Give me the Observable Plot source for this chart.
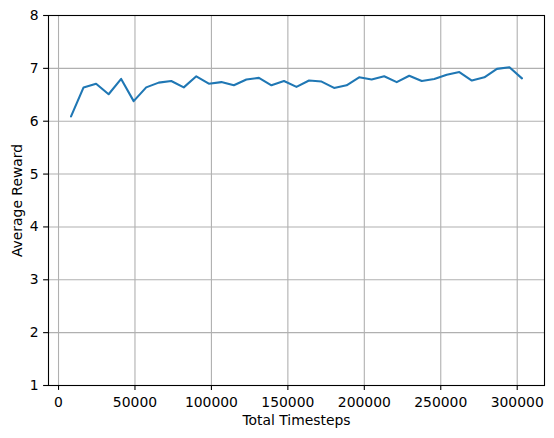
<!DOCTYPE html>
<html>
<head>
<meta charset="utf-8">
<script src="https://cdn.jsdelivr.net/npm/d3@7"></script>
<script src="https://cdn.jsdelivr.net/npm/@observablehq/plot@0.6"></script>
<style>
  html, body { margin: 0; padding: 0; background: #fff; }
  svg { display: block; font-family: "DejaVu Sans", sans-serif; }
</style>
</head>
<body>
<div id="chart"></div>
<script>
const stepSize = 8192;
const rewards = [6.09, 6.64, 6.71, 6.51, 6.80, 6.38, 6.64, 6.73, 6.76, 6.64,
                 6.85, 6.71, 6.74, 6.68, 6.79, 6.82, 6.68, 6.76, 6.65, 6.77,
                 6.75, 6.63, 6.68, 6.83, 6.79, 6.85, 6.74, 6.86, 6.76, 6.80,
                 6.88, 6.93, 6.77, 6.83, 6.99, 7.02, 6.81];
const timesteps = rewards.map((_, i) => (i + 1) * stepSize);
const xTicks = [0, 50000, 100000, 150000, 200000, 250000, 300000];
const yTicks = [1, 2, 3, 4, 5, 6, 7, 8];
const xLabel = "Total Timesteps";
const yLabel = "Average Reward";

const data = rewards.map((r, i) => ({t: timesteps[i], r}));
const span = timesteps[timesteps.length - 1] - timesteps[0];
const xDomain = [timesteps[0] - 0.05 * span, timesteps[timesteps.length - 1] + 0.05 * span];

const fs = 13.9;
const chart = Plot.plot({
  width: 554,
  height: 438,
  marginLeft: 48,
  marginRight: 10,
  marginTop: 15,
  marginBottom: 53,
  style: {fontFamily: "'DejaVu Sans', sans-serif", fontSize: fs + "px", color: "#000", background: "#fff"},
  x: {domain: xDomain},
  y: {domain: [1, 8]},
  marks: [
    Plot.gridX(xTicks, {stroke: "#b0b0b0", strokeOpacity: 1, strokeWidth: 1.1}),
    Plot.gridY(yTicks, {stroke: "#b0b0b0", strokeOpacity: 1, strokeWidth: 1.1}),
    Plot.line(data, {x: "t", y: "r", stroke: "#1f77b4", strokeWidth: 2.08}),
    Plot.frame({stroke: "#000", strokeWidth: 1.1}),
    Plot.axisX(xTicks, {tickSize: 4.9, tickPadding: 6.5, tickFormat: d => String(d), label: null, fontSize: fs, stroke: "#000", strokeWidth: 1.1, fill: "#000"}),
    Plot.axisY(yTicks, {tickSize: 4.9, tickPadding: 5, tickFormat: d => String(d), label: null, fontSize: fs, stroke: "#000", strokeWidth: 1.1, fill: "#000"}),
    Plot.text([xLabel], {frameAnchor: "bottom", dy: 35.5, lineAnchor: "middle", textAnchor: "middle", text: d => d, fontSize: fs, fill: "#000"}),
    Plot.text([yLabel], {frameAnchor: "left", dx: -30.5, rotate: -90, lineAnchor: "middle", textAnchor: "middle", text: d => d, fontSize: fs, fill: "#000"})
  ]
});
document.getElementById("chart").appendChild(chart);
</script>
</body>
</html>
